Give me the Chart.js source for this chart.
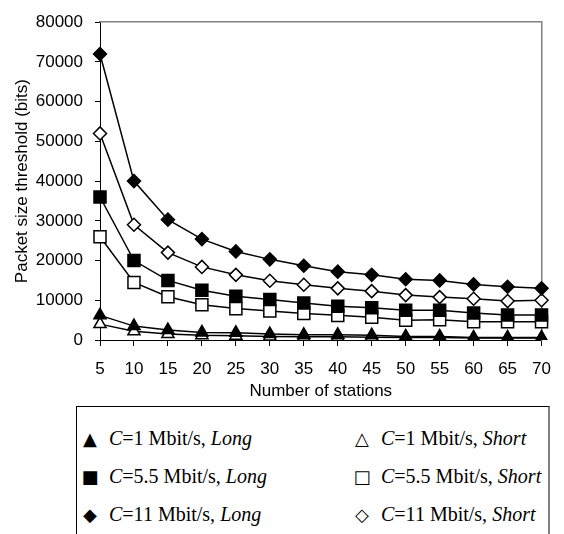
<!DOCTYPE html>
<html lang="en">
<head>
    <meta charset="UTF-8">
    <title>Packet size threshold vs number of stations</title>
    <style>
        body {
            margin: 0;
            background: #fff;
        }

        #wrap {
            position: relative;
            width: 564px;
            height: 534px;
            overflow: hidden;
        }

        #chartBox {
            position: absolute;
            left: 0;
            top: 0;
            width: 564px;
            height: 406px;
        }

        #legend {
            position: absolute;
            left: 76px;
            top: 406px;
            width: 471px;
            height: 150px;
            border: 1px solid #000;
            border-right: 2px solid #808080;
            font-family: 'Liberation Serif', 'Times New Roman', serif;
            font-size: 20px;
            color: #000;
        }

        #legend .item {
            position: absolute;
            height: 30px;
            display: flex;
            align-items: center;
            white-space: nowrap;
        }

        #legend .mk {
            font-family: 'DejaVu Sans', sans-serif;
            font-size: 18px;
            width: 22px;
            text-align: center;
            margin-right: 8px;
        }
    </style>
</head>
<body>
<div id="wrap">
    <div id="chartBox"><canvas id="chart"></canvas></div>
    <div id="legend"></div>
</div>
<script src="https://cdn.jsdelivr.net/npm/chart.js"></script>
<script>
    // number of stations (x axis)
    const stations = ['5', '10', '15', '20', '25', '30', '35', '40', '45', '50', '55', '60', '65', '70'];

    // packet size threshold (bits)
    const long1   = [6200, 3500, 2500, 1900, 1800, 1500, 1300, 1300, 1200, 900, 900, 600, 600, 600];
    const short1  = [4000, 2200, 1500, 1200, 1100, 900, 800, 800, 700, 600, 600, 500, 500, 500];
    const long55  = [36000, 20000, 15000, 12500, 11000, 10200, 9300, 8500, 8100, 7500, 7500, 6800, 6300, 6300];
    const short55 = [26000, 14500, 10900, 8900, 7900, 7300, 6700, 6200, 5700, 5000, 5100, 4600, 4600, 4600];
    const long11  = [72000, 40000, 30300, 25400, 22300, 20300, 18700, 17200, 16400, 15300, 15000, 14000, 13400, 13000];
    const short11 = [52000, 29000, 22000, 18400, 16400, 14900, 13900, 13000, 12300, 11300, 10800, 10400, 9800, 10000];

    const rates = ['1', '5.5', '11'];
    const kinds = ['Long', 'Short'];
    const legendMarks = ['▲', '△', '■', '□', '◆', '◇'];

    const axisFont = { family: "'Liberation Sans', Arial, sans-serif", size: 17 };

    function series(data, style, filled, radius) {
        return {
            data: data,
            borderColor: '#000',
            borderWidth: 1.5,
            pointStyle: style,
            pointRadius: radius,
            pointBorderWidth: 1.5,
            pointBorderColor: '#000',
            pointBackgroundColor: filled ? '#000' : '#fff',
            tension: 0,
            fill: false
        };
    }

    new Chart(document.getElementById('chart'), {
        type: 'line',
        data: {
            labels: stations,
            datasets: [
                series(long1, 'triangle', true, 7),
                series(short1, 'triangle', false, 7),
                series(long55, 'rect', true, 8.5),
                series(short55, 'rect', false, 8.5),
                series(long11, 'rectRot', true, 6.5),
                series(short11, 'rectRot', false, 6.5)
            ]
        },
        options: {
            responsive: true,
            maintainAspectRatio: false,
            animation: false,
            layout: { padding: { top: 21, right: 14, bottom: 0, left: 0 } },
            plugins: {
                legend: { display: false },
                tooltip: { enabled: false }
            },
            scales: {
                x: {
                    type: 'category',
                    offset: false,
                    grid: { drawOnChartArea: false, color: '#000', tickLength: 6 },
                    border: { color: '#000', width: 1 },
                    ticks: { color: '#000', font: axisFont, padding: 13, maxRotation: 0, autoSkip: false },
                    title: {
                        display: true,
                        text: 'Number of stations',
                        color: '#000',
                        font: axisFont,
                        padding: { top: 4, bottom: 4 }
                    },
                    afterFit: s => { s.height = 66; }
                },
                y: {
                    min: 0,
                    max: 80000,
                    grid: { drawOnChartArea: false, color: '#000', tickLength: 5 },
                    border: { color: '#000', width: 1 },
                    ticks: {
                        stepSize: 10000,
                        color: '#000',
                        font: axisFont,
                        padding: 12,
                        callback: v => String(v)
                    },
                    title: {
                        display: true,
                        text: 'Packet size threshold (bits)',
                        color: '#000',
                        font: axisFont,
                        padding: { top: 12, bottom: 4 }
                    },
                    afterFit: s => { s.width = 100; }
                },
                x2: {
                    type: 'category',
                    position: 'top',
                    grid: { drawOnChartArea: false, drawTicks: false },
                    border: { color: '#808080', width: 1.5 },
                    ticks: { display: false },
                    afterFit: s => { s.height = 0; }
                },
                y2: {
                    type: 'linear',
                    position: 'right',
                    min: 0,
                    max: 80000,
                    grid: { drawOnChartArea: false, drawTicks: false },
                    border: { color: '#808080', width: 1.5 },
                    ticks: { display: false },
                    afterFit: s => { s.width = 0; }
                }
            }
        }
    });

    // legend below the chart, two columns: Long | Short
    const legend = document.getElementById('legend');
    const colLeft = [2, 274];
    const rowCenter = [31, 69, 107];
    rates.forEach((r, i) => {
        kinds.forEach((k, j) => {
            const el = document.createElement('div');
            el.className = 'item';
            el.style.left = colLeft[j] + 'px';
            el.style.top = (rowCenter[i] - 15) + 'px';
            el.innerHTML = '<span class="mk">' + legendMarks[i * 2 + j] + '</span>' +
                '<span><i>C</i>=' + r + ' Mbit/s, <i>' + k + '</i></span>';
            legend.appendChild(el);
        });
    });
</script>
</body>
</html>
